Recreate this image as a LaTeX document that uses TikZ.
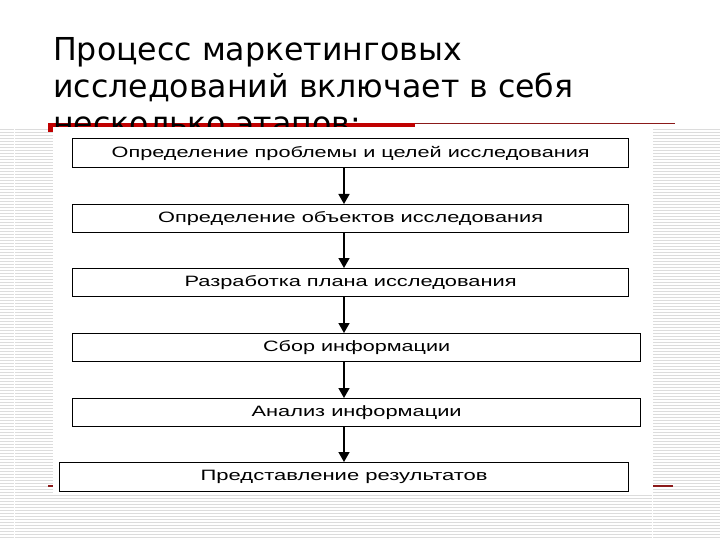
\documentclass[tikz,border=0pt]{standalone}
\usepackage{fontspec}
\usepackage{graphicx}
\usetikzlibrary{arrows.meta}
\newfontfamily\titlefont{DejaVu Sans}
\newfontfamily\boxfont{Liberation Sans}
\newcommand\stx[2]{\resizebox{#1pt}{\height}{\boxfont\fontsize{15}{18}\selectfont #2}}
\definecolor{stripegray}{HTML}{DCDCDC}
\definecolor{barred}{HTML}{C00000}
\definecolor{thinred}{HTML}{8B1A1A}
\begin{document}
\begin{tikzpicture}[x=1pt,y=-1pt,
  stepbox/.style={draw=black,line width=1.3pt,fill=white,inner sep=0pt,anchor=north west},
  titletext/.style={anchor=base west,inner sep=0pt,font=\titlefont\fontsize{31.6}{37}\selectfont},
  arr/.style={line width=1.6pt,-{Triangle[width=11pt,length=10pt]}}]
\useasboundingbox (0,0) rectangle (720,540);
\fill[white] (0,0) rectangle (720,540);
% striped background
\foreach \i in {0,...,136} \fill[stripegray] (0,{129+3*\i}) rectangle (720,{130.3+3*\i});
\fill[white] (13.5,129) rectangle (14.6,540);
\fill[white] (651.5,129) rectangle (652.6,540);
% red bars
\fill[barred] (48,123) rectangle (415,132);
\draw[thinred,line width=1.3pt] (415,123.5) -- (675,123.5);
\draw[thinred,line width=1.3pt] (48,486) -- (673,486);
% title
\node[titletext] (t1) at (53,61) {Процесс маркетинговых};
\node[titletext] (t2) at (53,98) {исследований включает в себя};
\node[titletext] (t3) at (53,135) {несколько этапов:};
% picture area
\fill[white] (53,127) rectangle (653,495);
\coordinate (ax) at (344,0);
\node[stepbox,minimum width=556pt,minimum height=29pt] (b1) at (72,138) {\stx{478}{Определение проблемы и целей исследования}};
\node[stepbox,minimum width=556pt,minimum height=28pt] (b2) at (72,204) {\stx{385}{Определение объектов исследования}};
\node[stepbox,minimum width=556pt,minimum height=28pt] (b3) at (72,268) {\stx{332}{Разработка плана исследования}};
\node[stepbox,minimum width=568pt,minimum height=28pt] (b4) at (72,333) {\stx{187}{Сбор информации}};
\node[stepbox,minimum width=568pt,minimum height=28pt] (b5) at (72,398) {\stx{210}{Анализ информации}};
\node[stepbox,minimum width=569pt,minimum height=29pt] (b6) at (59,462) {\stx{287}{Представление результатов}};
\draw[arr] (b1.south -| ax) -- (b2.north -| ax);
\draw[arr] (b2.south -| ax) -- (b3.north -| ax);
\draw[arr] (b3.south -| ax) -- (b4.north -| ax);
\draw[arr] (b4.south -| ax) -- (b5.north -| ax);
\draw[arr] (b5.south -| ax) -- (b6.north -| ax);
\end{tikzpicture}
\end{document}
